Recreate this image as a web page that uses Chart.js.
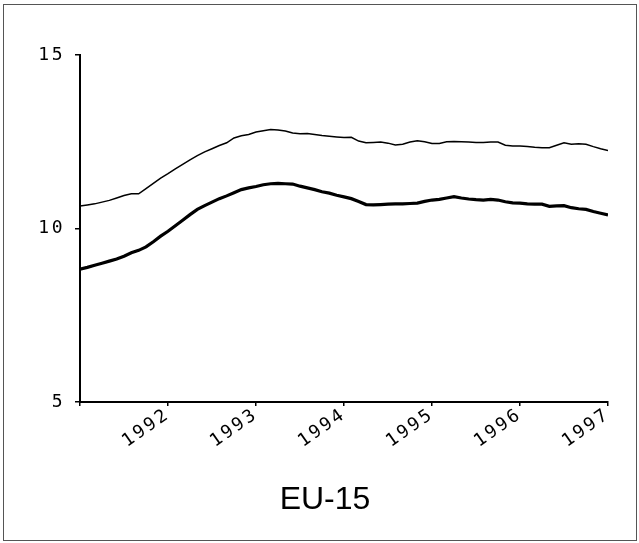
<!DOCTYPE html>
<html>
<head>
<meta charset="utf-8">
<script src="https://cdn.jsdelivr.net/npm/chart.js@4/dist/chart.umd.min.js"></script>
<style>
  html, body { margin: 0; padding: 0; background: #fff; }
  #wrap { position: relative; width: 639px; height: 543px; }
  #frame { position: absolute; left: 3px; top: 4px; width: 632px; height: 535px; border: 1px solid #555; }
  #title { position: absolute; left: 0; top: 482px; width: 650px; text-align: center;
           font-family: "Liberation Sans", Arial, sans-serif; font-size: 32px; line-height: 32px; color: #000; }
  canvas { position: absolute; left: 0; top: 0; }
</style>
</head>
<body>
<div id="wrap">
  <div id="frame"></div>
  <canvas id="chart" width="639" height="543"></canvas>
  <div id="title">EU-15</div>
</div>
<script>
// monthly values, Jan 1991 .. Jan 1997
var startYear = 1991;
var yearLabels = [1992, 1993, 1994, 1995, 1996, 1997];
var yTicks = [5, 10, 15];

var upper = [10.65, 10.68, 10.71, 10.76, 10.81, 10.88, 10.95, 11.00, 11.00, 11.15, 11.30, 11.45,
             11.58, 11.72, 11.85, 11.98, 12.10, 12.21, 12.30, 12.39, 12.47, 12.61, 12.67, 12.71,
             12.78, 12.82, 12.85, 12.84, 12.81, 12.75, 12.73, 12.74, 12.71, 12.68, 12.66, 12.64,
             12.62, 12.63, 12.52, 12.47, 12.48, 12.49, 12.46, 12.41, 12.43, 12.49, 12.53, 12.50,
             12.45, 12.45, 12.50, 12.51, 12.50, 12.49, 12.48, 12.48, 12.49, 12.49, 12.40, 12.38,
             12.38, 12.36, 12.34, 12.33, 12.33, 12.40, 12.47, 12.43, 12.44, 12.43, 12.36, 12.30,
             12.25];

var lower = [8.83, 8.88, 8.94, 9.00, 9.06, 9.12, 9.20, 9.30, 9.37, 9.47, 9.62, 9.78,
             9.92, 10.08, 10.24, 10.40, 10.55, 10.66, 10.76, 10.86, 10.94, 11.03, 11.12, 11.17,
             11.21, 11.26, 11.29, 11.30, 11.29, 11.28, 11.22, 11.17, 11.12, 11.06, 11.02, 10.96,
             10.91, 10.86, 10.78, 10.69, 10.68, 10.69, 10.70, 10.71, 10.71, 10.72, 10.73, 10.78,
             10.82, 10.84, 10.88, 10.92, 10.88, 10.85, 10.83, 10.82, 10.84, 10.82, 10.77, 10.74,
             10.73, 10.71, 10.70, 10.70, 10.64, 10.65, 10.66, 10.60, 10.57, 10.55, 10.49, 10.44,
             10.39];

function toPoints(arr) {
  return arr.map((v, i) => ({ x: startYear + i / 12, y: v }));
}

var tickFont = { family: "'DejaVu Sans Mono', monospace", size: 18 };

// wide plotter-like lettering for the tick labels
var spacing = {
  id: 'spacing',
  beforeLayout: (chart) => { chart.ctx.letterSpacing = '2.5px'; },
  beforeDraw: (chart) => { chart.ctx.letterSpacing = '2.5px'; }
};

var ctx = document.getElementById('chart').getContext('2d');
new Chart(ctx, {
  type: 'line',
  data: {
    datasets: [
      { data: toPoints(upper), borderColor: '#000', borderWidth: 1.5, pointRadius: 0, tension: 0, fill: false },
      { data: toPoints(lower), borderColor: '#000', borderWidth: 3.2, pointRadius: 0, tension: 0, fill: false }
    ]
  },
  options: {
    responsive: false,
    animation: false,
    layout: { padding: { left: 0, right: 31, top: 55, bottom: 0 } },
    plugins: { legend: { display: false }, tooltip: { enabled: false }, title: { display: false } },
    scales: {
      x: {
        type: 'linear',
        min: 1991, max: 1997,
        afterFit: (s) => { s.height = 141; },
        ticks: {
          stepSize: 1,
          autoSkip: false,
          minRotation: 35, maxRotation: 35,
          color: '#000',
          font: tickFont,
          padding: -2,
          callback: (v) => yearLabels.includes(v) ? String(v) : ''
        },
        grid: { drawOnChartArea: false, drawTicks: true, tickLength: 4, color: '#000', lineWidth: 1.5 },
        border: { display: true, color: '#000', width: 2 }
      },
      y: {
        min: 5, max: 15,
        afterFit: (s) => { s.width = 80; },
        afterBuildTicks: (s) => { s.ticks = yTicks.map((v) => ({ value: v })); },
        ticks: { color: '#000', font: tickFont, padding: 10 },
        grid: { drawOnChartArea: false, drawTicks: true, tickLength: 5, color: '#000', lineWidth: 1.5 },
        border: { display: true, color: '#000', width: 2 }
      }
    }
  },
  plugins: [spacing]
});
</script>
</body>
</html>
